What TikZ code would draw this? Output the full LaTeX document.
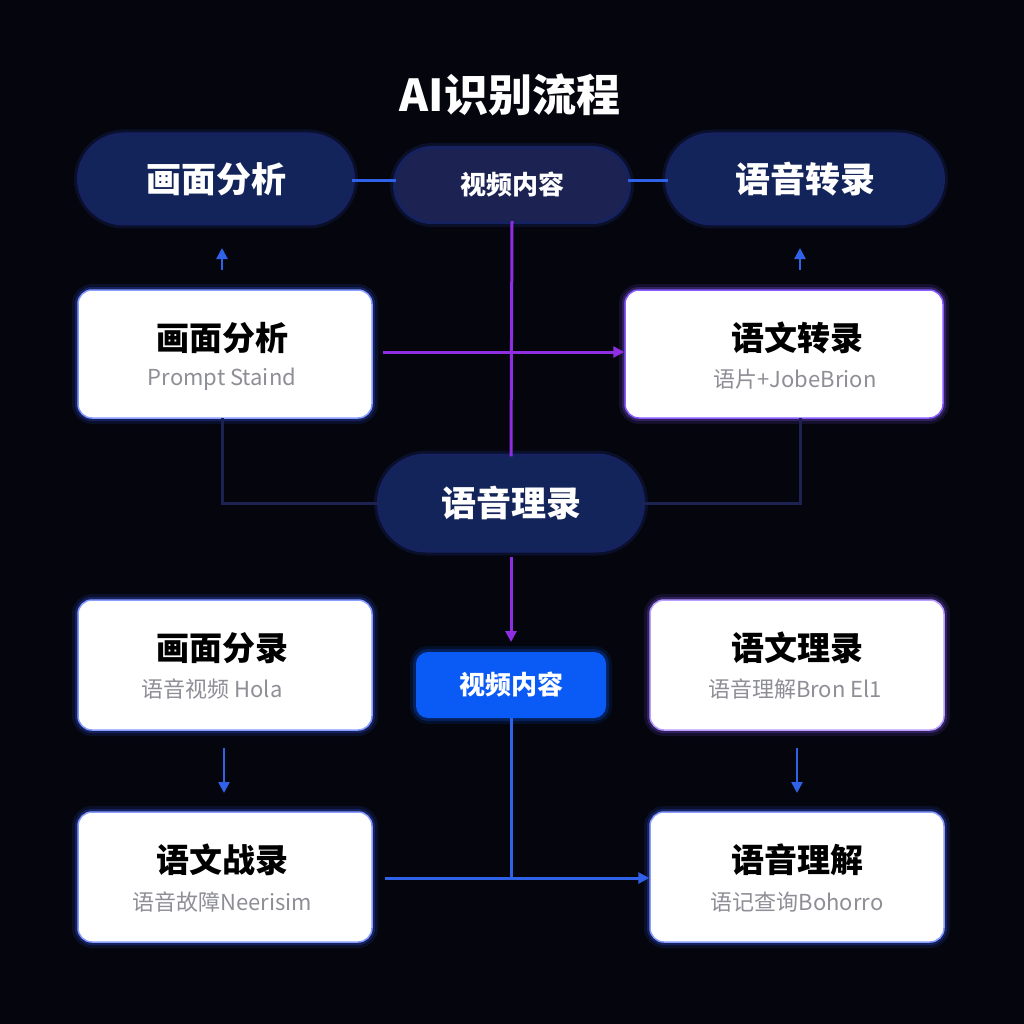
\documentclass[tikz,border=0pt]{standalone}
\usepackage{fontspec}
\setmainfont{Noto Sans CJK SC}
\newfontfamily\cjk{Noto Sans CJK SC}
\usetikzlibrary{arrows.meta}
\definecolor{bg}{HTML}{04050D}
\definecolor{pill}{HTML}{13245A}
\definecolor{glow}{HTML}{3A5BFF}
\definecolor{pglow}{HTML}{8A5CFF}
\definecolor{vblue}{HTML}{0A5AF5}
\definecolor{lblue}{HTML}{2F62E8}
\definecolor{lpurp}{HTML}{8E2DE2}
\definecolor{ldark}{HTML}{1C2352}
\definecolor{sub}{HTML}{8E8E96}
\tikzset{
  x=1pt,y=-1pt,
  glowit/.style={preaction={draw=#1,line width=12pt,opacity=0.12},
                 preaction={draw=#1,line width=6pt,opacity=0.25}},
  pillnode/.style={rounded corners=#1,fill=pill,text=white,font=\cjk\bfseries,inner sep=0pt,glowit=glow},
  card/.style={rounded corners=14pt,fill=white,draw=#1!60,line width=1.5pt,glowit=#1,inner sep=0pt,minimum width=294pt,minimum height=128pt},
  arr/.style={-{Triangle[length=11pt,width=11pt]},line width=3pt},
  ttl/.style={font=\cjk\bfseries\fontsize{33}{36}\selectfont},
  stl/.style={font=\cjk\fontsize{22}{24}\selectfont,text=sub},
}
\begin{document}
\begin{tikzpicture}
\fill[bg] (0,0) rectangle (1024,1024);
\useasboundingbox (0,0) rectangle (1024,1024);
\node[text=white,font=\cjk\bfseries\fontsize{44}{48}\selectfont] (title) at (510,95) {AI识别流程};
% top row
\node[pillnode=44pt,minimum width=272pt,minimum height=87pt,font=\cjk\bfseries\fontsize{35}{38}\selectfont] (ta) at (216,179) {画面分析};
\node[pillnode=36pt,fill=ldark,minimum width=232pt,minimum height=72pt,font=\cjk\bfseries\fontsize{26}{28}\selectfont] (tv) at (512,185) {视频内容};
\node[pillnode=44pt,minimum width=274pt,minimum height=87pt,font=\cjk\bfseries\fontsize{35}{38}\selectfont] (tt) at (805,179) {语音转录};
\draw[lblue,line width=3pt] (ta.east|-0,181) -- (tv.west|-0,181);
\draw[lblue,line width=3pt] (tv.east|-0,181) -- (tt.west|-0,181);
% cards
\node[card=glow] (c1) at (225,354) {};
\node[ttl] at (222,338) {画面分析};
\node[stl] at (222,379) {Prompt Staind};
\node[card=pglow,minimum width=318pt,draw=pglow] (c2) at (784,354) {};
\node[ttl] at (797,338) {语文转录};
\node[stl] at (795,379) {语片+JobeBrion};
\node[card=glow,minimum height=130pt] (c3) at (225,665) {};
\node[ttl] at (222,648) {画面分录};
\node[stl] at (212,689) {语音视频 Hola};
\node[card=pglow,minimum height=130pt] (c4) at (797,665) {};
\node[ttl] at (797,648) {语文理录};
\node[stl] at (795,689) {语音理解Bron El1};
\node[card=glow,minimum height=130pt] (c5) at (225,877) {};
\node[ttl] at (222,860) {语文战录};
\node[stl] at (222,902) {语音故障Neerisim};
\node[card=glow,minimum height=130pt] (c6) at (797,877) {};
\node[ttl] at (797,860) {语音理解};
\node[stl] at (797,902) {语记查询Bohorro};
% center
\node[pillnode=46pt,minimum width=262pt,minimum height=93pt,font=\cjk\bfseries\fontsize{35}{38}\selectfont] (cm) at (511,503) {语音理录};
\node[rounded corners=12pt,fill=vblue,text=white,minimum width=190pt,minimum height=66pt,inner sep=0pt,font=\cjk\bfseries\fontsize{26}{28}\selectfont,glowit=vblue] (bv) at (511,685) {视频内容};
% up arrows
\coordinate (u1) at (222,270); \coordinate (u1e) at (222,248);
\coordinate (u2) at (800,270); \coordinate (u2e) at (800,248);
\draw[arr,lblue,line width=2.2pt] (u1) -- (u1e);
\draw[arr,lblue,line width=2.2pt] (u2) -- (u2e);
% purple
\draw[lpurp,line width=3pt] (tv.south) -- (cm.north);
\draw[arr,lpurp] (c1.east|-0,352) ++(10,0) -- (c2.west|-0,352);
\draw[arr,lpurp] (511,557) -- (511,642);
% dark connectors
\draw[ldark,line width=3pt] (222,418) |- (cm.west);
\draw[ldark,line width=3pt] (800,418) |- (cm.east);
% blue
\draw[lblue,line width=3pt] (bv.south) -- (511,878);
\draw[arr,lblue] (385,878) -- (c6.west|-0,878);
\draw[arr,lblue,line width=2.4pt] (224,748) -- (224,793);
\draw[arr,lblue,line width=2.4pt] (797,748) -- (797,793);
\end{tikzpicture}
\end{document}
